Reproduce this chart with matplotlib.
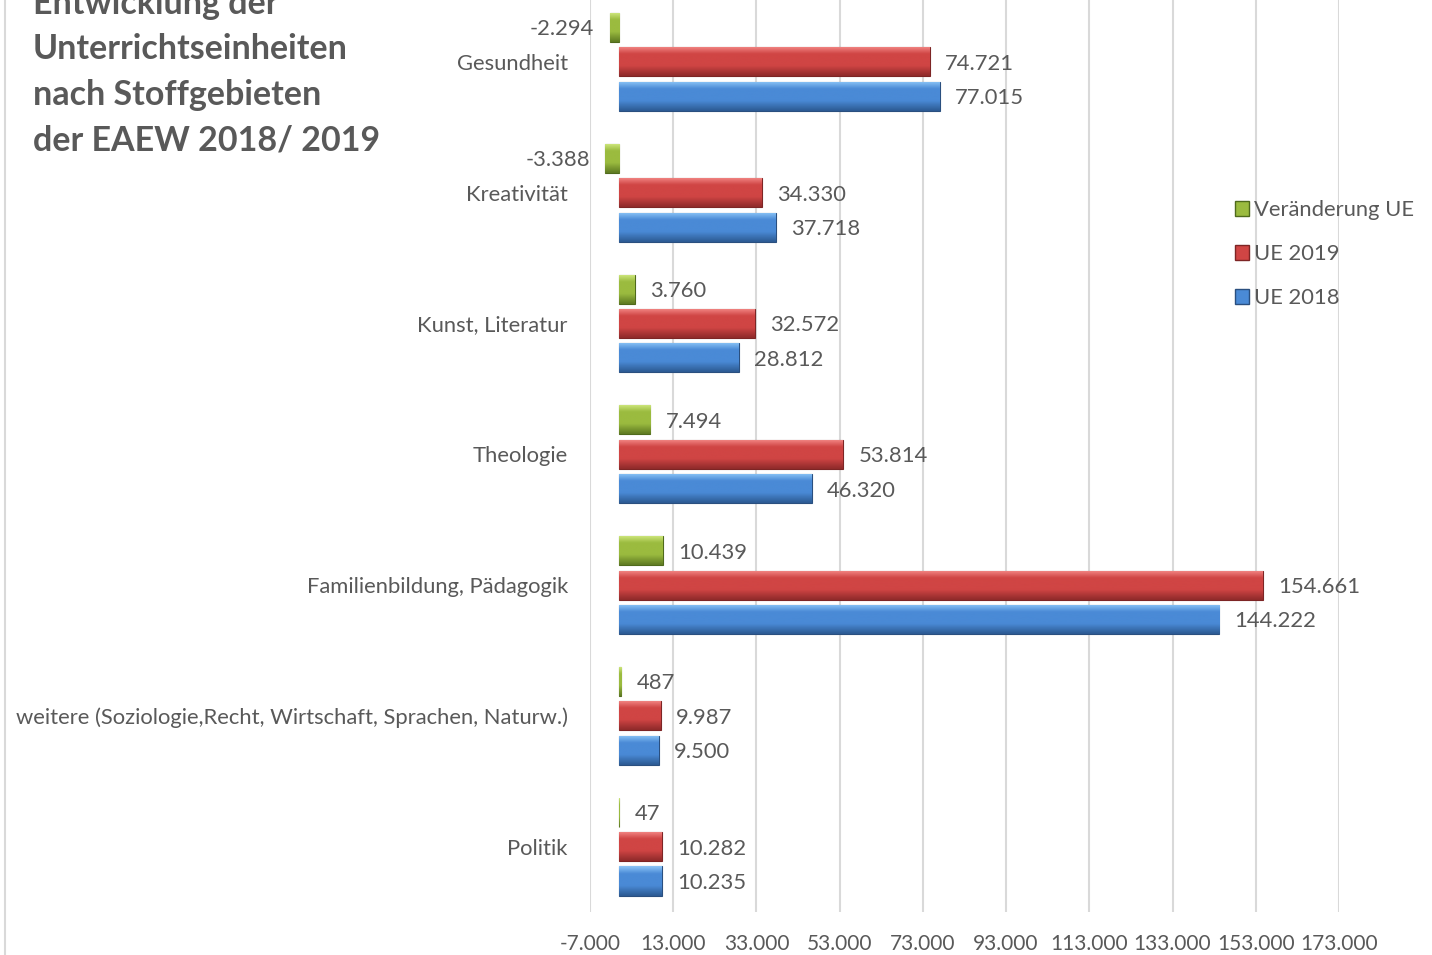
import numpy as np
import matplotlib
matplotlib.use("Agg")
import matplotlib.pyplot as plt
from matplotlib.patches import Patch
from matplotlib.colors import LinearSegmentedColormap
from matplotlib.lines import Line2D

plt.rcParams['font.family'] = ['Lato', 'DejaVu Sans']

categories = ["Politik",
              "weitere (Soziologie,Recht, Wirtschaft, Sprachen, Naturw.)",
              "Familienbildung, Pädagogik",
              "Theologie",
              "Kunst, Literatur",
              "Kreativität",
              "Gesundheit"]
ue_2018 = [10235, 9500, 144222, 46320, 28812, 37718, 77015]
ue_2019 = [10282, 9987, 154661, 53814, 32572, 34330, 74721]
veraenderung = [47, 487, 10439, 7494, 3760, -3388, -2294]
series_names = ["UE 2018", "UE 2019", "Veränderung UE"]
x_ticks = list(range(-7000, 173001, 20000))
title_lines = ["Entwicklung der", "Unterrichtseinheiten", "nach Stoffgebieten", "der EAEW 2018/ 2019"]

GRAY = "#595959"
# (top highlight, main, bottom shade, edge)
palettes = {
    "UE 2018": ("#8cc6f7", "#4a8ad6", "#2c5a92", "#2a4f7f"),
    "UE 2019": ("#f48a88", "#d04544", "#8e2a2a", "#7d2525"),
    "Veränderung UE": ("#d2ea82", "#9bbb3f", "#5e7a22", "#4f6a1c"),
}

def fmt(v):
    return f"{v:,}".replace(",", ".")

W, H = 1432, 955
fig = plt.figure(figsize=(W / 100, H / 100), dpi=100)
left, right = 590 / W, 1339 / W
bottom = (H - 912) / H
top = (H + 3.5) / H
ax = fig.add_axes([left, bottom, right - left, top - bottom])

y = np.arange(len(categories))
off = 0.263
bh = 0.222
data = {"UE 2018": ue_2018, "UE 2019": ue_2019, "Veränderung UE": veraenderung}
offsets = {"UE 2018": -off, "UE 2019": 0.0, "Veränderung UE": off}
FS = 15.8

for name in series_names:
    vals = data[name]
    c_top, c_mid, c_bot, c_edge = palettes[name]
    cmap = LinearSegmentedColormap.from_list(name, [(0, c_bot), (0.35, c_mid), (0.75, c_mid), (1, c_top)])
    bars = ax.barh(y + offsets[name], vals, height=bh, color=c_mid, edgecolor=c_edge,
                   linewidth=0.8, zorder=3)
    grad = np.linspace(0, 1, 64).reshape(-1, 1)
    for b in bars:
        x0, yb = b.get_x(), b.get_y()
        w, hh = b.get_width(), b.get_height()
        xa, xb = min(x0, x0 + w), max(x0, x0 + w)
        im = ax.imshow(grad, cmap=cmap, aspect='auto', origin='lower',
                       extent=[xa, xb, yb, yb + hh], zorder=3.5, interpolation='bicubic')
        im.set_clip_path(b)
    for b, v in zip(bars, vals):
        yc = b.get_y() + b.get_height() / 2
        if v < 0:
            ax.annotate(fmt(v), (v, yc), xytext=(-11, 0), textcoords='offset points',
                        ha='right', va='center_baseline', fontsize=FS, color=GRAY)
        else:
            ax.annotate(fmt(v), (v, yc), xytext=(11, 0), textcoords='offset points',
                        ha='left', va='center_baseline', fontsize=FS, color=GRAY)

ax.set_xlim(x_ticks[0], x_ticks[-1])
ax.set_ylim(-0.5, len(categories) - 0.5)
ax.set_xticks(x_ticks)
ax.set_xticklabels([fmt(v) for v in x_ticks], fontsize=15, color=GRAY)
ax.set_yticks(y)
ax.set_yticklabels(categories, fontsize=FS, color=GRAY, va='center_baseline')
ax.tick_params(axis='both', length=0)
ax.tick_params(axis='y', pad=16)
ax.tick_params(axis='x', pad=16)
ax.grid(axis='x', color='#d9d9d9', linewidth=1.5, zorder=0)
ax.set_axisbelow(True)
for s in ax.spines.values():
    s.set_visible(False)

handles = [Patch(facecolor=palettes[n][1], edgecolor=palettes[n][3]) for n in
           ["Veränderung UE", "UE 2019", "UE 2018"]]
labels = ["Veränderung UE", "UE 2019", "UE 2018"]
fig.legend(handles, labels, loc='upper left', bbox_to_anchor=(1224 / W, 1 - 189 / H),
           frameon=False, fontsize=FS, labelcolor=GRAY, handlelength=0.65,
           handleheight=0.65, handletextpad=0.2, labelspacing=1.1, borderpad=0)

baselines = [14, 59, 105, 150]
for line, yb in zip(title_lines, baselines):
    fig.text(33 / W, 1 - yb / H, line, fontsize=24.5, fontweight='bold', color=GRAY,
             ha='left', va='baseline')
fig.add_artist(Line2D([4.5 / W, 4.5 / W], [0, 1], color='#d9d9d9', linewidth=1.5,
                      transform=fig.transFigure))

fig.savefig("out.png", dpi=100)
